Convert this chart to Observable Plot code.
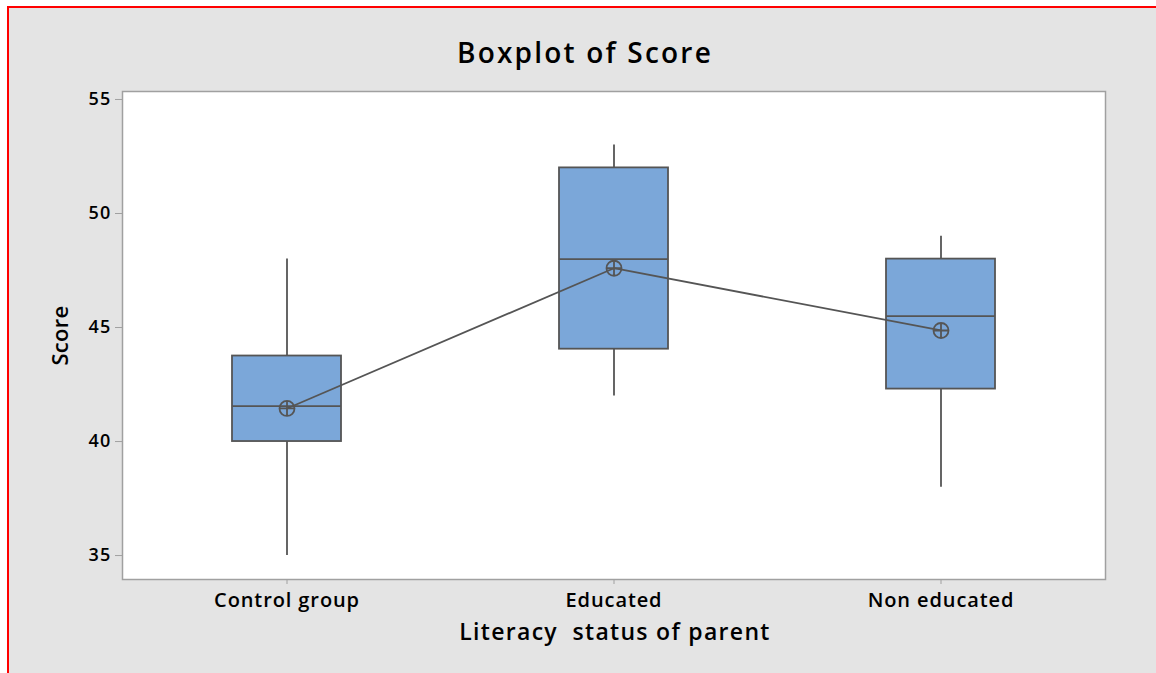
<!DOCTYPE html>
<html>
<head>
<meta charset="utf-8">
<script src="https://cdn.jsdelivr.net/npm/d3@7"></script>
<script src="https://cdn.jsdelivr.net/npm/@observablehq/plot@0.6"></script>
<style>
  html, body { margin: 0; padding: 0; background: #ffffff; }
  #page { position: relative; width: 1156px; height: 673px; overflow: hidden; background: #ffffff; }
  #panel { position: absolute; left: 7px; top: 6px; right: 0; bottom: 0; background: #e4e4e4;
           border-left: 2px solid #ff0000; border-top: 2px solid #ff0000; }
  #chart { position: absolute; left: 0; top: 0; }
  #title { position: absolute; top: 33px; left: 385px; width: 400px; text-align: center;
           font-family: "Open Sans", sans-serif; font-weight: 600; font-size: 28px; letter-spacing: 2.2px; color: #000; }
</style>
</head>
<body>
<div id="page">
  <div id="panel"></div>
  <div id="chart"></div>
  <div id="title">Boxplot of Score</div>
</div>
<script>
const groups = ["Control group", "Educated", "Non educated"];
const whiskerLow = [35, 42, 38];
const q1 = [40, 44.05, 42.3];
const median = [41.55, 48, 45.5];
const q3 = [43.75, 52, 48];
const whiskerHigh = [48, 53, 49];
const means = [41.45, 47.6, 44.87];
const yTicks = [35, 40, 45, 50, 55];
const yLabel = "Score";
const xLabel = "Literacy  status of parent";

const data = groups.map((g, i) => ({
  group: g, low: whiskerLow[i], q1: q1[i], median: median[i], q3: q3[i], high: whiskerHigh[i], mean: means[i]
}));

const circlePlus = {
  draw(ctx, size) {
    const r = Math.sqrt(size / Math.PI);
    ctx.moveTo(r, 0);
    ctx.arc(0, 0, r, 0, 2 * Math.PI);
    ctx.moveTo(-r, 0); ctx.lineTo(r, 0);
    ctx.moveTo(0, -r); ctx.lineTo(0, r);
  }
};

const ink = "#555555";
const sw = 1.8;
const chart = Plot.plot({
  width: 1156,
  height: 673,
  marginLeft: 122,
  marginRight: 51,
  marginTop: 91,
  marginBottom: 94,
  style: { background: "transparent", fontFamily: "Open Sans, sans-serif", color: "#000", whiteSpace: "pre" },
  x: { type: "band", domain: groups, paddingInner: 0.667, paddingOuter: 0.3335, label: null },
  y: { domain: [33.95, 55.35], label: null },
  marks: [
    Plot.frame({ fill: "white", stroke: "#a0a0a0", strokeWidth: 1.5 }),
    Plot.ruleX(data, { x: "group", y1: "low", y2: "q1", stroke: ink, strokeWidth: sw }),
    Plot.ruleX(data, { x: "group", y1: "q3", y2: "high", stroke: ink, strokeWidth: sw }),
    Plot.barY(data, { x: "group", y1: "q1", y2: "q3", fill: "#7ba7d9", stroke: ink, strokeWidth: sw }),
    Plot.tickY(data, { x: "group", y: "median", stroke: ink, strokeWidth: sw }),
    Plot.line(data, { x: "group", y: "mean", stroke: ink, strokeWidth: sw }),
    Plot.dot(data, { x: "group", y: "mean", r: 7.5, symbol: circlePlus, stroke: ink, fill: "none", strokeWidth: sw }),
    Plot.axisY({ ticks: yTicks, tickSize: 7, tickPadding: 4, fontSize: 18, fontWeight: 600, stroke: "#a0a0a0", label: null }),
    Plot.axisX({ tickSize: 5, tickPadding: 8, fontSize: 20, fontWeight: 600, stroke: "#a0a0a0", label: null }),
    Plot.text([yLabel], { frameAnchor: "left", dx: -62, rotate: -90, textAnchor: "middle", lineAnchor: "middle", fontSize: 22, fontWeight: 600, fill: "#000" }),
    Plot.text([xLabel], { frameAnchor: "bottom", dy: 53, dx: 1, textAnchor: "middle", lineAnchor: "middle", fontSize: 23, fontWeight: 600, fill: "#000" })
  ]
});
const svg = d3.select(chart);
svg.selectAll('g[aria-label="y-axis tick label"] text').style("letter-spacing", "1.2px");
svg.selectAll('g[aria-label="x-axis tick label"] text').style("letter-spacing", "0.9px");
svg.selectAll("text").filter(function () { return this.textContent === yLabel; }).style("letter-spacing", "0.3px");
svg.selectAll("text").filter(function () { return this.textContent === xLabel; }).style("letter-spacing", "1.3px");
document.getElementById("chart").appendChild(chart);
</script>
</body>
</html>
